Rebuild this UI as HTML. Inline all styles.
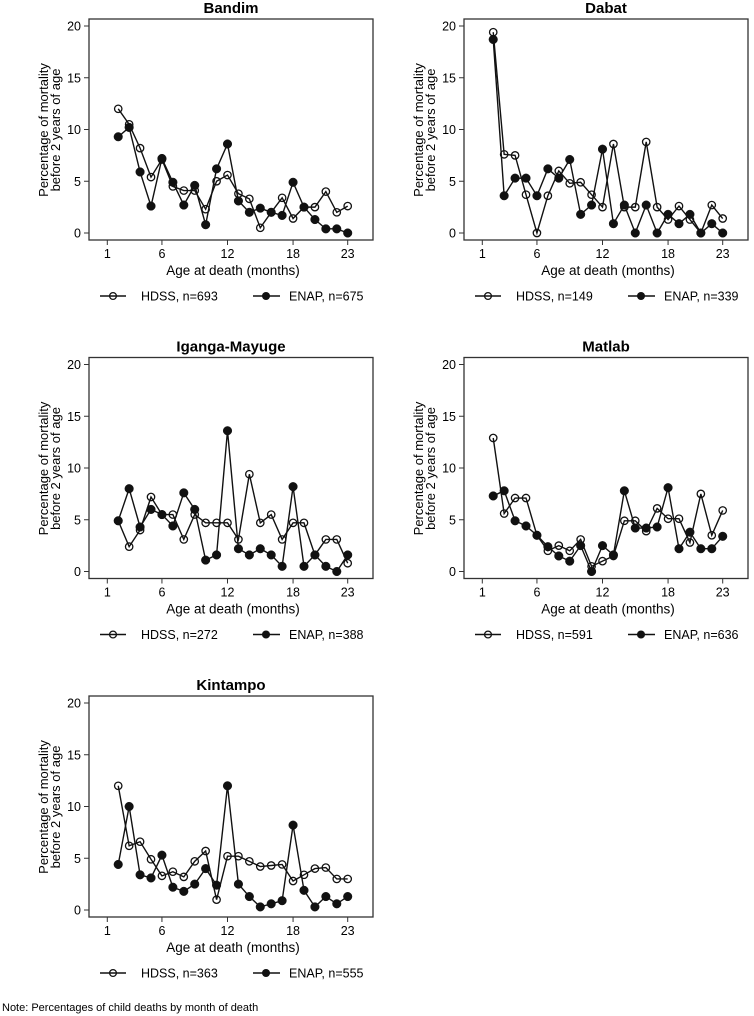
<!DOCTYPE html>
<html><head><meta charset="utf-8"><style>
html,body{margin:0;padding:0;background:#fff;}
svg{display:block;font-family:"Liberation Sans",Arial,sans-serif;}
</style></head><body>
<svg id="fig" width="754" height="1016" viewBox="0 0 754 1016">
<text x="2" y="1011" font-size="11" fill="#000">Note: Percentages of child deaths by month of death</text>
</svg>
<script>
const months = [2,3,4,5,6,7,8,9,10,11,12,13,14,15,16,17,18,19,20,21,22,23];
const xTicks = [1,6,12,18,23];
const yTicks = [0,5,10,15,20];
const panelNames = ["Bandim","Dabat","Iganga-Mayuge","Matlab","Kintampo"];
const hdssN = [693,149,272,591,363];
const enapN = [675,339,388,636,555];
const bandimHdss = [12,10.5,8.2,5.4,7.1,4.5,4.1,4.1,2.3,5.0,5.6,3.8,3.3,0.5,2.0,3.4,1.4,2.5,2.5,4.0,2.0,2.6];
const bandimEnap = [9.3,10.2,5.9,2.6,7.2,4.9,2.7,4.6,0.8,6.2,8.6,3.1,2.0,2.4,2.0,1.7,4.9,2.5,1.3,0.4,0.4,0.0];
const dabatHdss = [19.4,7.6,7.5,3.7,0.0,3.6,6.0,4.8,4.9,3.7,2.5,8.6,2.5,2.5,8.8,2.5,1.3,2.6,1.3,0.0,2.7,1.4];
const dabatEnap = [18.7,3.6,5.3,5.3,3.6,6.2,5.3,7.1,1.8,2.7,8.1,0.9,2.7,0.0,2.7,0.0,1.8,0.9,1.8,0.0,0.9,0.0];
const igangaHdss = [4.9,2.4,4.0,7.2,5.5,5.5,3.1,5.5,4.7,4.7,4.7,3.1,9.4,4.7,5.5,3.1,4.7,4.7,1.6,3.1,3.1,0.8];
const igangaEnap = [4.9,8.0,4.3,6.0,5.5,4.4,7.6,6.0,1.1,1.6,13.6,2.2,1.6,2.2,1.6,0.5,8.2,0.5,1.6,0.5,0.0,1.6];
const matlabHdss = [12.9,5.6,7.1,7.1,3.5,2.0,2.5,2.0,3.1,0.5,1.0,1.5,4.9,4.9,3.9,6.1,5.1,5.1,2.8,7.5,3.5,5.9];
const matlabEnap = [7.3,7.8,4.9,4.4,3.5,2.4,1.5,1.0,2.5,0.0,2.5,1.6,7.8,4.2,4.2,4.3,8.1,2.2,3.8,2.2,2.2,3.4];
const kintampoHdss = [12.0,6.2,6.6,4.9,3.3,3.7,3.2,4.7,5.7,1.0,5.2,5.2,4.7,4.2,4.3,4.4,2.8,3.4,4.0,4.1,3.0,3.0];
const kintampoEnap = [4.4,10.0,3.4,3.1,5.3,2.2,1.8,2.5,4.0,2.4,12.0,2.5,1.3,0.3,0.6,0.9,8.2,1.9,0.3,1.3,0.6,1.3];
const hdssSeries = [bandimHdss,dabatHdss,igangaHdss,matlabHdss,kintampoHdss];
const enapSeries = [bandimEnap,dabatEnap,igangaEnap,matlabEnap,kintampoEnap];

const NS="http://www.w3.org/2000/svg";
const svg=document.getElementById('fig');
function mk(tag,attrs,parent,text){const e=document.createElementNS(NS,tag);for(const k in attrs)e.setAttribute(k,attrs[k]);if(text!==undefined)e.textContent=text;(parent||svg).appendChild(e);return e;}
function slug(s){return s.toLowerCase().replace(/[^a-z0-9]+/g,'-');}

panelNames.forEach((name,i)=>{
  const ox=(i%2)*375, oy=Math.floor(i/2)*338.5;
  const g=mk('g',{});
  
  
  const x=v=>ox+107.3+(v-1)*(240.4/22);
  const y=v=>oy+233-v*(207/20);
  const t=mk('text',{x:ox+231,y:oy+13,'font-size':15,'font-weight':'bold','text-anchor':'middle'},g,name);
  
  
  const box=mk('rect',{x:ox+89,y:oy+19,width:284,height:221,fill:'none',stroke:'#333','stroke-width':1.3},g);
  
  
  yTicks.forEach(v=>{
    const l=mk('line',{x1:ox+84,x2:ox+89,y1:y(v),y2:y(v),stroke:'#333'},g);
    
    
    const tl=mk('text',{x:ox+81,y:y(v)+4.5,'font-size':12.5,'text-anchor':'end'},g,String(v));
    
    
  });
  xTicks.forEach(v=>{
    const l=mk('line',{x1:x(v),x2:x(v),y1:oy+240,y2:oy+245,stroke:'#333'},g);
    
    
    const tl=mk('text',{x:x(v),y:oy+258,'font-size':12.5,'text-anchor':'middle'},g,String(v));
    
    
  });
  const xt=mk('text',{x:ox+233,y:oy+275,'font-size':13.5,'text-anchor':'middle'},g,'Age at death (months)');
  
  
  const yt=mk('text',{transform:`translate(${ox+48},${oy+130}) rotate(-90)`,'font-size':13,'text-anchor':'middle'},g);
  
  
  mk('tspan',{x:0,dy:0},yt,'Percentage of mortality');
  mk('tspan',{x:0,dy:12},yt,'before 2 years of age');
  [[hdssSeries[i],false,'hdss'],[enapSeries[i],true,'enap']].forEach(([vals,filled,key])=>{
    const pl=mk('polyline',{points:vals.map((v,j)=>x(months[j])+','+y(v)).join(' '),fill:'none',stroke:'#111','stroke-width':1.4},g);
    
    
    vals.forEach((v,j)=>{
      const c=mk('circle',{cx:x(months[j]),cy:y(v),r:filled?4.3:3.7,fill:filled?'#111':'none',stroke:'#111','stroke-width':filled?0.5:1.3},g);
      
      
    });
  });
  const ly=oy+296;
  const lg1=mk('g',{},g);
  
  
  mk('line',{x1:ox+100,x2:ox+126,y1:ly,y2:ly,stroke:'#111','stroke-width':1.4},lg1);
  mk('circle',{cx:ox+113,cy:ly,r:3.4,fill:'none',stroke:'#111','stroke-width':1.3},lg1);
  mk('text',{x:ox+141,y:ly+4.5,'font-size':12.5},lg1,'HDSS, n='+hdssN[i]);
  const lg2=mk('g',{},g);
  
  
  mk('line',{x1:ox+253,x2:ox+280,y1:ly,y2:ly,stroke:'#111','stroke-width':1.4},lg2);
  mk('circle',{cx:ox+266,cy:ly,r:4,fill:'#111'},lg2);
  mk('text',{x:ox+289,y:ly+4.5,'font-size':12.5},lg2,'ENAP, n='+enapN[i]);
});
</script>
</body></html>
